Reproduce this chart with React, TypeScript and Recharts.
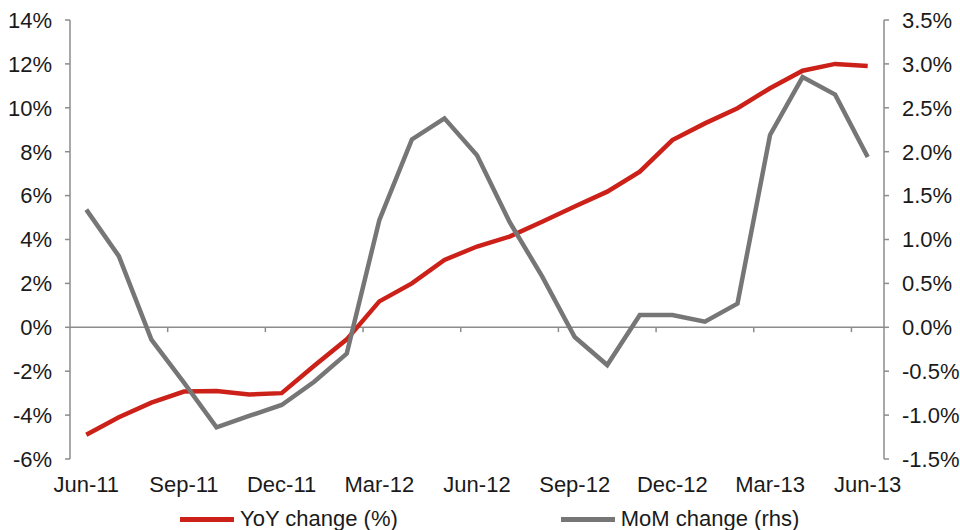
import React from "react";
import { LineChart, Line, XAxis, YAxis, ReferenceLine, Legend } from "recharts";

// Monthly categories, Jun-11 .. Jun-13
const months = [
  "Jun-11", "Jul-11", "Aug-11", "Sep-11", "Oct-11", "Nov-11", "Dec-11", "Jan-12", "Feb-12",
  "Mar-12", "Apr-12", "May-12", "Jun-12", "Jul-12", "Aug-12", "Sep-12", "Oct-12", "Nov-12",
  "Dec-12", "Jan-13", "Feb-13", "Mar-13", "Apr-13", "May-13", "Jun-13",
];

// YoY change (%), left axis
const yoyChange = [
  -4.9, -4.1, -3.43, -2.93, -2.9, -3.06, -3.0, -1.75, -0.55, 1.18, 2.0, 3.07, 3.68,
  4.13, 4.81, 5.5, 6.18, 7.09, 8.53, 9.29, 9.98, 10.89, 11.69, 12.0, 11.9,
];

// MoM change (%), right axis
const momChange = [
  1.34, 0.81, -0.14, -0.63, -1.14, -1.01, -0.885, -0.62, -0.3, 1.22, 2.14, 2.38, 1.96,
  1.2, 0.58, -0.11, -0.43, 0.14, 0.14, 0.064, 0.27, 2.19, 2.85, 2.65, 1.94,
];

const leftTicks = [-6, -4, -2, 0, 2, 4, 6, 8, 10, 12, 14];
const rightTicks = [-1.5, -1.0, -0.5, 0, 0.5, 1.0, 1.5, 2.0, 2.5, 3.0, 3.5];

const RED = "#cc2119";
const GREY = "#767676";
const AXIS = "#8c8c8c";
const FONT = "'Liberation Sans', Arial, Helvetica, sans-serif";

const data = months.map((m, i) => ({ month: m, yoy: yoyChange[i], mom: momChange[i] }));

// tick marks on the zero line sit between quarters
const quarterEnds = months.filter((_m, i) => i % 3 === 2);

const tickStyle = { fontSize: 22, fill: "#1a1a1a", fontFamily: FONT };

const renderLegend = () => (
  <div style={{ display: "flex", alignItems: "center", paddingLeft: 180, fontFamily: FONT, fontSize: 22, color: "#1a1a1a" }}>
    <span style={{ display: "inline-block", width: 54, height: 5, background: RED, marginRight: 6 }} />
    <span>YoY change (%)</span>
    <span style={{ display: "inline-block", width: 54, height: 5, background: GREY, marginLeft: 163, marginRight: 6 }} />
    <span>MoM change (rhs)</span>
  </div>
);

export default function App() {
  return (
    <div style={{ width: 960, height: 530, background: "#fff" }}>
      <style>{"body{margin:0}"}</style>
      <LineChart width={960} height={530} data={data} margin={{ top: 20, right: 0, bottom: 7, left: 0 }}>
        <XAxis
          dataKey="month"
          scale="band"
          interval={2}
          axisLine={false}
          tickLine={false}
          tickMargin={11}
          height={40}
          tick={tickStyle}
        />
        <YAxis
          yAxisId="l"
          domain={[-6, 14]}
          ticks={leftTicks}
          tickFormatter={(v: number) => `${v}%`}
          width={70}
          stroke={AXIS}
          strokeWidth={1.5}
          tickSize={5}
          tickMargin={13}
          tick={tickStyle}
        />
        <YAxis
          yAxisId="r"
          orientation="right"
          domain={[-1.5, 3.5]}
          ticks={rightTicks}
          tickFormatter={(v: number) => `${v.toFixed(1)}%`}
          width={76}
          stroke={AXIS}
          strokeWidth={1.5}
          tickSize={5}
          tickMargin={13}
          tick={tickStyle}
        />
        <ReferenceLine yAxisId="l" y={0} stroke={AXIS} strokeWidth={1.5} />
        {quarterEnds.map((m) => (
          <ReferenceLine
            key={m}
            yAxisId="l"
            position="end"
            segment={[{ x: m, y: 0 }, { x: m, y: -0.22 }]}
            stroke={AXIS}
            strokeWidth={1.5}
          />
        ))}
        <Line
          yAxisId="l"
          type="linear"
          dataKey="yoy"
          name="YoY change (%)"
          stroke={RED}
          strokeWidth={4.5}
          dot={false}
          isAnimationActive={false}
        />
        <Line
          yAxisId="r"
          type="linear"
          dataKey="mom"
          name="MoM change (rhs)"
          stroke={GREY}
          strokeWidth={4.5}
          dot={false}
          isAnimationActive={false}
        />
        <Legend verticalAlign="bottom" content={renderLegend} wrapperStyle={{ height: 24, bottom: 0 }} />
      </LineChart>
    </div>
  );
}
